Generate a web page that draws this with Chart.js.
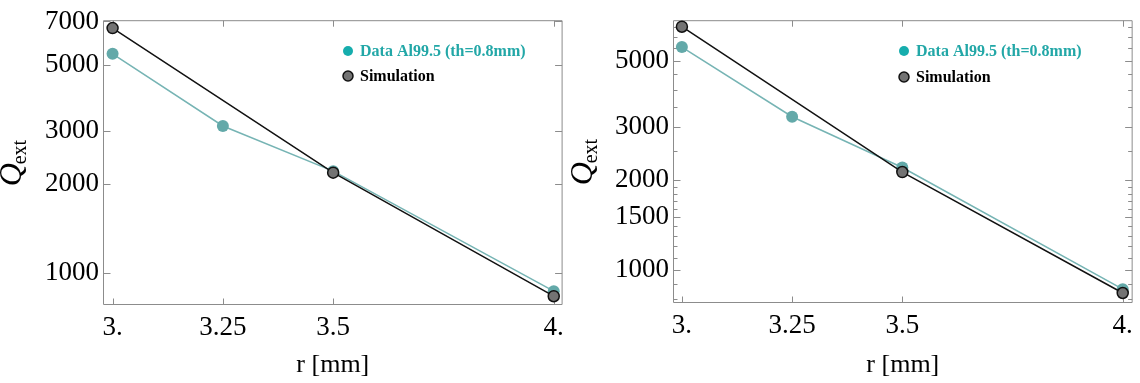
<!DOCTYPE html>
<html>
<head>
<meta charset="utf-8">
<script src="https://cdn.jsdelivr.net/npm/chart.js@4.4.1/dist/chart.umd.min.js"></script>
<style>
  html, body { margin: 0; padding: 0; background: #fff; }
  #wrap { position: relative; width: 1140px; height: 383px; overflow: hidden; }
  .panel { position: absolute; top: 0; height: 383px; }
  #left { left: 0; width: 571px; }
  #right { left: 571px; width: 569px; }
</style>
</head>
<body>
<div id="wrap">
  <div class="panel" id="left"><canvas id="graph-left" width="571" height="383"></canvas></div>
  <div class="panel" id="right"><canvas id="graph-right" width="569" height="383"></canvas></div>
</div>
<script>
// radius r [mm] and external Q, measured and simulated
var radii = [3, 3.25, 3.5, 4];
var simRadii = [3, 3.5, 4];
var xTicks = [3, 3.25, 3.5, 4];
var xTickLabels = ["3.", "3.25", "3.5", "4."];

var dataLeft = [5450, 3120, 2200, 870];
var simLeft = [6650, 2175, 837];
var dataRight = [5550, 3250, 2200, 864];
var simRight = [6490, 2125, 839];

var yTicksLeft = [1000, 2000, 3000, 5000, 7000];
var yTicksRight = [1000, 1500, 2000, 3000, 5000];
var yMinorRight = [800, 900, 1100, 1200, 1300, 1400, 1600, 1700, 1800, 1900,
                   2500, 3500, 4000, 4500, 5500, 6000, 6500];

var serif = '"Liberation Serif", "Times New Roman", serif';

function points(xs, ys) {
  var out = [];
  for (var i = 0; i < xs.length; i++) out.push({ x: xs[i], y: ys[i] });
  return out;
}

// frame round the plot area with inward ticks on all four sides
var framePlugin = {
  id: "frame",
  beforeDatasetsDraw: function(chart) {
    var ctx = chart.ctx, a = chart.chartArea;
    var xs = chart.scales.x, ys = chart.scales.y;
    var l = a.left + 0.5, r = a.right - 0.5, t = a.top + 0.5, b = a.bottom - 0.5;
    ctx.save();
    ctx.strokeStyle = "#8c8c8c";
    ctx.lineWidth = 1;
    ctx.beginPath();
    ctx.rect(l, t, r - l, b - t);
    xs.ticks.forEach(function(tk) {
      var px = Math.round(xs.getPixelForValue(tk.value)) + 0.5;
      ctx.moveTo(px, b); ctx.lineTo(px, b - 6);
      ctx.moveTo(px, t); ctx.lineTo(px, t + 6);
    });
    ys.ticks.forEach(function(tk) {
      var py = Math.round(ys.getPixelForValue(tk.value)) + 0.5;
      var len = tk.major ? 7 : 4;
      ctx.moveTo(l, py); ctx.lineTo(l + len, py);
      ctx.moveTo(r, py); ctx.lineTo(r - len, py);
    });
    ctx.stroke();
    ctx.restore();
  }
};

// legend inside the plot, upper right
var legendPlugin = {
  id: "innerLegend",
  afterDraw: function(chart, args, opts) {
    var ctx = chart.ctx;
    ctx.save();
    chart.data.datasets.forEach(function(ds, i) {
      var y = opts.y + i * opts.gap;
      ctx.beginPath();
      ctx.arc(opts.x, y, 5, 0, Math.PI * 2);
      ctx.fillStyle = ds.legendDot;
      ctx.fill();
      if (ds.pointBorderWidth) {
        ctx.lineWidth = 1.5;
        ctx.strokeStyle = ds.pointBorderColor;
        ctx.stroke();
      }
      ctx.font = "bold 16px " + serif;
      ctx.fillStyle = ds.legendText;
      ctx.textAlign = "left";
      ctx.textBaseline = "middle";
      ctx.fillText(ds.label, opts.x + 12, y + 1);
    });
    ctx.restore();
  }
};

// rotated Q_ext title for the y axis
var yTitlePlugin = {
  id: "yTitle",
  afterDraw: function(chart, args, opts) {
    var ctx = chart.ctx, a = chart.chartArea;
    var cy = (a.top + a.bottom) / 2;
    ctx.save();
    ctx.translate(opts.x, cy);
    ctx.rotate(-Math.PI / 2);
    ctx.fillStyle = "#000";
    ctx.textBaseline = "alphabetic";
    ctx.font = "italic 32px " + serif;
    var qw = ctx.measureText("Q").width;
    ctx.font = "20px " + serif;
    var ew = ctx.measureText("ext").width;
    var x0 = -(qw + ew) / 2;
    ctx.font = "italic 32px " + serif;
    ctx.textAlign = "left";
    ctx.fillText("Q", x0, 0);
    ctx.font = "20px " + serif;
    ctx.fillText("ext", x0 + qw - 1, 5);
    ctx.restore();
  }
};

function drawGraph(id, p) {
  var majors = p.yTicks;
  var all = majors.concat(p.yMinor || []);
  return new Chart(document.getElementById(id), {
    type: "line",
    data: {
      datasets: [{
        label: "Data Al99.5 (th=0.8mm)",
        data: points(radii, p.data),
        borderColor: "#76b4b4",
        backgroundColor: "#63a9a9",
        pointBackgroundColor: "#63a9a9",
        pointBorderWidth: 0,
        pointRadius: 6,
        borderWidth: 1.5,
        tension: 0,
        clip: false,
        order: 1,
        legendDot: "#16adad",
        legendText: "#22a7a7"
      }, {
        label: "Simulation",
        data: points(simRadii, p.sim),
        borderColor: "#111111",
        backgroundColor: "#737373",
        pointBackgroundColor: "#737373",
        pointBorderColor: "#111111",
        pointBorderWidth: 1.5,
        pointRadius: 5.5,
        borderWidth: 1.5,
        tension: 0,
        clip: false,
        order: 0,
        legendDot: "#737373",
        legendText: "#000000"
      }]
    },
    options: {
      responsive: false,
      animation: false,
      devicePixelRatio: 1,
      events: [],
      layout: { padding: { left: 0, top: 16, right: p.padRight, bottom: 0 } },
      plugins: {
        legend: { display: false },
        tooltip: { enabled: false },
        innerLegend: p.legend,
        yTitle: { x: 21 }
      },
      scales: {
        x: {
          type: "linear",
          min: p.xMin,
          max: p.xMax,
          afterBuildTicks: function(s) {
            s.ticks = xTicks.map(function(v) { return { value: v }; });
          },
          afterFit: function(s) { s.height = p.xHeight; },
          ticks: {
            autoSkip: false,
            maxRotation: 0,
            padding: 7,
            color: "#000",
            font: { family: serif, size: 27 },
            callback: function(v) { return xTickLabels[xTicks.indexOf(v)]; }
          },
          grid: { display: false, drawTicks: false },
          border: { display: false },
          title: {
            display: true,
            text: "r [mm]",
            color: "#000",
            font: { family: serif, size: 26 },
            padding: { top: 0, bottom: 2 }
          }
        },
        y: {
          type: "logarithmic",
          min: p.yMin,
          max: p.yMax,
          afterBuildTicks: function(s) {
            s.ticks = all.map(function(v) {
              return { value: v, major: majors.indexOf(v) >= 0 };
            });
          },
          afterFit: function(s) { s.width = p.yWidth; },
          ticks: {
            autoSkip: false,
            padding: 4,
            color: "#000",
            font: { family: serif, size: 27 },
            callback: function(v) { return majors.indexOf(v) >= 0 ? String(v) : ""; }
          },
          grid: { display: false, drawTicks: false },
          border: { display: false }
        }
      }
    },
    plugins: [framePlugin, legendPlugin, yTitlePlugin]
  });
}

drawGraph("graph-left", {
  data: dataLeft, sim: simLeft,
  yTicks: yTicksLeft, yMinor: [],
  yMin: 782, yMax: 7066,
  xMin: 2.9783, xMax: 4.0201,
  yWidth: 103, xHeight: 78, padRight: 2,
  legend: { x: 348, y: 51, gap: 25 }
});

drawGraph("graph-right", {
  data: dataRight, sim: simRight,
  yTicks: yTicksRight, yMinor: yMinorRight,
  yMin: 777, yMax: 6823,
  xMin: 2.9798, xMax: 4.0225,
  yWidth: 102, xHeight: 80, padRight: 3,
  legend: { x: 333, y: 51, gap: 26 }
});
</script>
</body>
</html>
